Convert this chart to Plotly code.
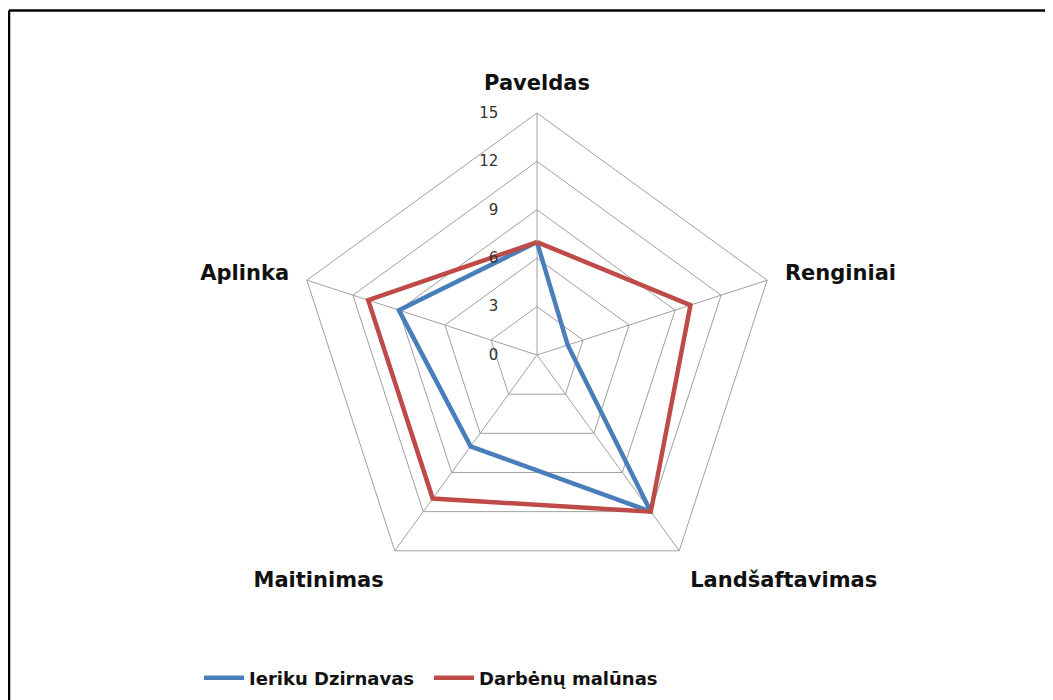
import plotly.graph_objects as go

categories = ["Paveldas", "Renginiai", "Landšaftavimas", "Maitinimas", "Aplinka"]
ieriku = [7, 2, 12, 7, 9]
darbenu = [7, 10, 12, 11, 11]
series_names = ["Ieriku Dzirnavas", "Darbėnų malūnas"]
radial_ticks = [0, 3, 6, 9, 12, 15]

W, H = 1053, 700
OFF = 8  # page body margin offset

def closed(v):
    return v + v[:1]

fig = go.Figure()
fig.add_trace(go.Scatterpolar(
    r=closed(ieriku), theta=closed(categories), mode="lines",
    name=series_names[0], line=dict(color="#4a7ebb", width=4.5)))
fig.add_trace(go.Scatterpolar(
    r=closed(darbenu), theta=closed(categories), mode="lines",
    name=series_names[1], line=dict(color="#be4b48", width=4.5)))

cx = (537 - OFF) / W
cy = (355 - OFF) / H
rad = 242 / H
radx = 242 / W
fig.update_layout(
    width=W, height=H,
    margin=dict(l=0, r=0, t=0, b=0),
    paper_bgcolor="white",
    font=dict(family="DejaVu Sans", color="#1a1a1a"),
    polar=dict(
        domain=dict(x=[cx - radx, cx + radx], y=[1 - cy - rad, 1 - cy + rad]),
        bgcolor="white",
        gridshape="linear",
        angularaxis=dict(
            rotation=90, direction="clockwise",
            tickfont=dict(family="DejaVu Sans", size=21, color="#111111"),
            gridcolor="#a0a0a0", gridwidth=1,
            linecolor="#a0a0a0", linewidth=1,
            ticks="outside", ticklen=14, tickcolor="rgba(0,0,0,0)",
            showline=True,
        ),
        radialaxis=dict(
            range=[0, 15], tickvals=radial_ticks,
            angle=90, tickangle=90, side="counterclockwise",
            tickfont=dict(family="DejaVu Sans", size=15, color="#333333"),
            gridcolor="#a0a0a0", gridwidth=1,
            showline=False, ticks="outside", ticklen=33, tickcolor="rgba(0,0,0,0)",
        ),
    ),
    legend=dict(
        orientation="h", x=(203 - OFF - 4) / W, xanchor="left",
        y=1 - (678 - OFF) / H, yanchor="middle",
        font=dict(family="DejaVu Sans", size=18, color="#111111"),
        itemwidth=40, entrywidth=175, entrywidthmode="pixels",
    ),
    shapes=[
        dict(type="line", xref="paper", yref="paper",
             x0=1 / W, x1=1.0, y0=1 - 2.5 / H, y1=1 - 2.5 / H,
             line=dict(color="black", width=2.5)),
        dict(type="line", xref="paper", yref="paper",
             x0=1 / W, x1=1 / W, y0=0, y1=1 - 2.5 / H,
             line=dict(color="black", width=2.5)),
    ],
)
fig.update_polars(angularaxis_tickfont_weight="bold")
fig.update_layout(legend_font_weight="bold")

fig.write_html("out.html")
